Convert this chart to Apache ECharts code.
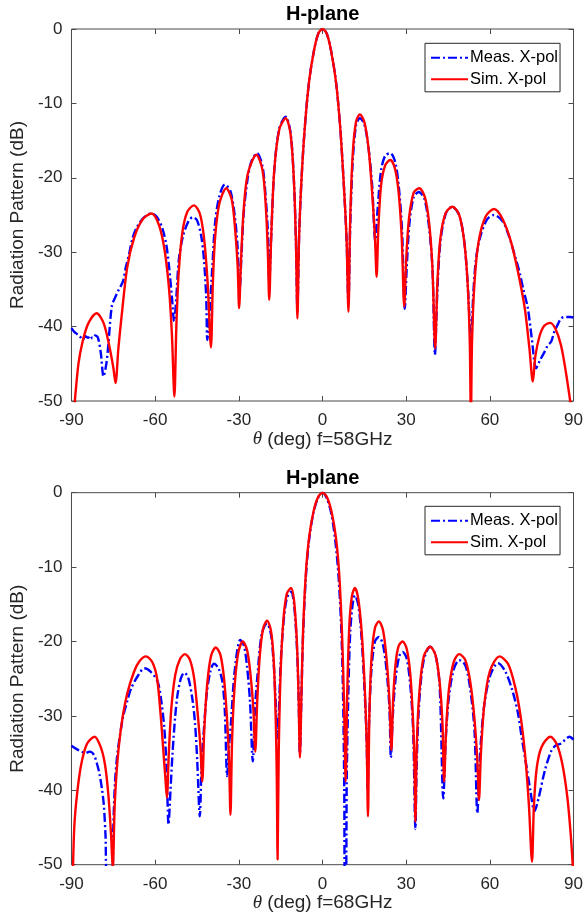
<!DOCTYPE html>
<html>
<head>
<meta charset="utf-8">
<script src="https://cdn.jsdelivr.net/npm/echarts@6/dist/echarts.min.js"></script>
<style>
html,body{margin:0;padding:0;background:#fff;}
#chart{width:586px;height:922px;}
</style>
</head>
<body>
<div id="chart"></div>
<script>
// ---------- data ----------
var xTicks = [-90, -60, -30, 0, 30, 60, 90];
var yTicks = [-50, -40, -30, -20, -10, 0];
var seriesNames = ['Meas. X-pol', 'Sim. X-pol'];
var panelTitles = ['H-plane', 'H-plane'];
var xLabels = ['f=58GHz', 'f=68GHz'];

// 58 GHz, simulated [theta, dB]
var sim58 = [
 [-89.5,-53],[-88.8,-50],[-87.5,-45],[-86,-42],[-84,-39.6],[-81,-38.2],[-78.5,-39.5],[-76.5,-42.5],[-75,-45.5],[-74.2,-47.6],
 [-73.2,-43],[-72,-38.5],[-70,-32],[-67.5,-28],[-64.5,-25.6],[-61.3,-24.8],[-58.5,-26.5],[-56.5,-30],[-55,-35],[-54,-41],[-53.1,-49.4],
 [-52.4,-40],[-51.6,-33],[-50.3,-27.5],[-48.5,-24.6],[-46.1,-23.7],[-44,-24.8],[-42.5,-28],[-41.2,-34],[-40.0,-42.8],
 [-39.3,-34],[-38.5,-28],[-37,-23.5],[-34.5,-21.4],[-32.5,-23],[-31.2,-27.5],[-30.4,-32],[-29.9,-37.5],
 [-29.2,-31],[-28.3,-24.5],[-26.8,-19.5],[-23.7,-16.9],[-21.5,-19],[-20.3,-24],[-19.6,-30],[-19.1,-36.4],
 [-18.4,-28],[-17.3,-19],[-15.5,-13.5],[-13.2,-12.0],[-11.5,-14],[-10.3,-20],[-9.5,-29],[-9.0,-38.9],
 [-8.4,-28],[-7.5,-20],[-6.3,-13],[-4.8,-7],[-3,-2.8],[-1.5,-0.6],[0,0],[1.5,-0.6],[3,-2.8],[4.8,-7],[6.3,-13],[7.5,-20],[8.6,-28],[9.3,-38],
 [9.9,-26],[10.8,-17],[12,-12.5],[13.4,-11.5],[15,-12.5],[16.5,-16],[17.8,-22],[18.8,-28],[19.4,-33.3],
 [20,-27],[21,-21],[22.5,-18.3],[24.3,-17.6],[26,-18.8],[27.3,-22],[28.4,-28],[29.3,-37.3],
 [30,-31],[31,-25.5],[32.7,-22],[34.7,-21.4],[36.7,-22.6],[38.2,-26],[39.4,-32],[40.4,-42.9],
 [41.2,-34],[42.3,-28],[44.2,-24.7],[46.6,-23.9],[49,-25],[50.8,-28.5],[52,-34],[52.8,-42],[53.2,-53],
 [53.6,-42],[54.5,-34],[56,-28.5],[58.5,-25.2],[61.5,-24.2],[64.5,-25.5],[67.5,-28.5],[70,-32.5],[72.5,-37.5],[74.2,-43],[75.4,-47.4],
 [76.3,-44],[77.8,-41.3],[79.5,-39.9],[81.6,-39.5],[83.5,-40.3],[85.5,-42.5],[87.2,-46],[88.8,-50],[89.5,-52]
];

// 58 GHz, measured [theta, dB]
var meas58 = [
 [-90,-40.2],[-89,-40.7],[-88,-41],[-87,-41.3],[-86,-41.8],[-85,-41.3],[-84,-41.5],[-83.2,-41.2],[-82.5,-41.6],[-81.5,-41.2],[-80.5,-41.5],
 [-79.5,-43.5],[-78.5,-46.7],[-77.5,-45],[-76.8,-42.5],[-75.5,-37.2],[-74,-35.8],[-73,-35],[-71.6,-34],[-70.5,-32],[-69.5,-30.5],
 [-68,-28],[-66.5,-26.6],[-64.5,-25.5],[-62.5,-24.9],[-61.3,-24.8],[-59.5,-25.2],[-57.5,-26.7],[-56,-29],[-55,-32],[-54,-36],[-53.2,-39.3],
 [-52.4,-36],[-51.5,-31],[-50,-27.8],[-48,-25.8],[-46.5,-25.3],[-45,-25.7],[-43.5,-27.8],[-42.5,-31],[-41.7,-36],[-41.3,-41.8],
 [-40.5,-38],[-39.5,-32],[-38.5,-26],[-37,-22.5],[-35,-20.9],[-33,-21.8],[-31.5,-25],[-30.5,-29],[-29.7,-34.9],
 [-29,-30],[-28.3,-25],[-27,-20.5],[-25.5,-17.8],[-23.5,-16.7],[-21.5,-18.5],[-20.3,-23],[-19.5,-28],[-19.1,-34],
 [-18.4,-28],[-17.3,-19],[-15.5,-13.4],[-13.2,-11.8],[-11.5,-13.8],[-10.3,-20],[-9.5,-29],[-9.0,-38],
 [-8.4,-28],[-7.5,-20],[-6.3,-13],[-4.8,-7],[-3,-2.8],[-1.5,-0.6],[0,0],[1.5,-0.6],[3,-2.8],[4.8,-7],[6.3,-13],[7.5,-20],[8.6,-28],[9.3,-37],
 [9.9,-27],[10.8,-18],[12,-13],[13.4,-12.0],[15,-12.8],[16.5,-16],[17.8,-21],[18.9,-28.4],
 [19.8,-24],[21,-19],[22.5,-17],[24.3,-16.7],[26,-17.8],[27.3,-21],[28.5,-27],[29.5,-37.6],
 [30.2,-32],[31.2,-26],[32.7,-22.6],[34.5,-21.9],[36.5,-22.8],[38,-26],[39.4,-32],[40.3,-43.8],
 [41.2,-35],[42.3,-28.5],[44.2,-24.8],[46.5,-23.9],[49,-25],[50.8,-28.5],[52,-34],[53.3,-42],
 [54,-36],[55,-31],[56.5,-28],[59,-25.6],[61.5,-25.0],[64.5,-25.8],[67,-28],[68.9,-30.4],[70.5,-32.5],[72,-35],[73.6,-37.5],[75,-41.5],[76.6,-45.6],
 [78,-44.5],[79.6,-43.4],[80.8,-42.5],[82,-42],[83.1,-40.7],[84.5,-39.6],[85.5,-38.9],[87,-38.7],[89,-38.7],[90,-38.8]
];

// 68 GHz, simulated [theta, dB]
var sim68 = [
 [-89.6,-53],[-89,-45],[-88,-40.5],[-86.5,-36.5],[-84.5,-33.8],[-81.7,-32.8],[-79.5,-34.2],[-78,-36.5],[-76.8,-40.5],[-75.8,-46],[-75.2,-50.5],
 [-74.5,-42],[-73.5,-36],[-72,-31],[-70,-27],[-67.5,-24],[-65.5,-22.6],[-63.3,-22.0],[-61,-22.8],[-59.3,-25],[-58,-30],[-57,-35],[-56.3,-38.5],[-55.8,-41.0],
 [-55.1,-35],[-54.2,-29],[-52.8,-24.5],[-51,-22.3],[-49.3,-21.7],[-47.5,-22.5],[-46,-25],[-44.8,-29.5],[-43.8,-34],[-43.1,-38.8],
 [-42.4,-32],[-41.4,-26],[-40,-22],[-38.3,-20.8],[-36.6,-21.8],[-35.3,-25],[-34.3,-30],[-33.5,-36],[-33.0,-43.3],
 [-32.4,-33],[-31.5,-26],[-30.2,-21.5],[-28.6,-20.0],[-27,-21.2],[-25.8,-24.5],[-24.8,-29],[-24.1,-34.8],
 [-23.4,-28],[-22.5,-22],[-21.3,-18.3],[-19.9,-17.2],[-18.5,-18.5],[-17.5,-22.5],[-16.8,-30],[-16.4,-38],[-16.1,-49.3],
 [-15.7,-35],[-15,-24],[-14,-17],[-12.8,-13.6],[-11.3,-12.8],[-10.2,-14.5],[-9.2,-20],[-8.6,-27],[-8.1,-35.6],
 [-7.6,-28],[-7,-19],[-6,-11],[-4.8,-6],[-3.2,-2.5],[-1.6,-0.6],[0,0],[1.6,-0.6],[3.2,-2.5],[4.8,-6],[6,-11],[7,-19],[7.7,-28],[8.3,-38.8],
 [8.8,-28],[9.6,-18],[10.5,-14],[11.6,-12.8],[12.8,-14.2],[14,-18.5],[15,-25],[15.8,-33],[16.3,-43.5],
 [16.8,-30],[17.6,-22],[18.8,-18.2],[20.2,-17.3],[21.7,-18.5],[23,-22.5],[24,-28],[24.7,-34.6],
 [25.3,-28],[26.2,-23],[27.3,-20.6],[28.7,-20.0],[30.2,-21],[31.5,-24.5],[32.5,-31],[33,-37],[33.3,-44.2],
 [33.8,-34],[34.7,-27],[36.3,-22],[38.6,-20.7],[40.5,-21.8],[42,-25.5],[43,-31],[43.6,-38.8],
 [44.3,-32],[45.3,-26.5],[47,-22.8],[49,-21.7],[51.2,-22.5],[53,-25.5],[54.5,-30.5],[55.5,-36],[56.1,-41.3],
 [56.8,-35],[58,-28.5],[60,-24],[63.5,-22.0],[66.5,-23],[69,-26],[71,-30],[72.7,-35.5],[74,-42],[75.1,-49.6],
 [75.8,-42],[76.8,-37],[78.5,-34.2],[81.7,-32.8],[84,-33.8],[86,-36.5],[87.8,-41],[89,-46],[89.7,-50],[90,-52]
];

// 68 GHz, measured [theta, dB]
var meas68 = [
 [-90,-34],[-88,-34.5],[-86.4,-34.8],[-85,-35],[-83.5,-34.8],[-82,-35.2],[-80.8,-36.5],[-79.9,-37.9],[-79,-40],[-78.4,-42],[-77.8,-46],[-77.2,-52],
 [-75.5,-52],[-75,-45],[-74.4,-39],[-73.5,-35],[-71.6,-30.3],[-70,-28],[-68.6,-26.3],[-66,-24.5],[-63.9,-23.6],[-61.5,-24.1],[-59.1,-25.4],[-57.8,-28],[-56.7,-31.7],[-55.9,-37],[-55.2,-44.6],
 [-54.5,-40],[-53.8,-35.2],[-52.8,-30],[-52,-27.2],[-50.8,-25],[-49.6,-24.2],[-48.2,-24.8],[-46.7,-27.6],[-45.7,-31],[-44.9,-36.1],[-44,-43.5],
 [-43.3,-36],[-42.5,-31.7],[-41.5,-27],[-40.2,-24],[-38.9,-23.0],[-37.3,-23.6],[-35.9,-25.4],[-35,-29.5],[-34.2,-38.1],
 [-33.5,-34],[-32.8,-30.8],[-31.5,-24],[-29.5,-19.8],[-28.2,-20.5],[-27.1,-23.2],[-26,-28],[-25,-36.1],
 [-24.2,-29],[-23.3,-24.5],[-21.8,-19],[-19.9,-17.6],[-18.5,-19],[-17.5,-23],[-16.8,-28],[-16.2,-33],
 [-15.7,-30],[-15,-23],[-14,-17.5],[-12.8,-14.2],[-11.3,-13.3],[-10.2,-15],[-9.2,-20.5],[-8.6,-27],[-8.1,-35],
 [-7.6,-28],[-7,-19.5],[-6,-11.5],[-4.8,-6.3],[-3.2,-2.6],[-1.6,-0.7],[0,0],[1.6,-0.8],[3.2,-2.9],[4.6,-6.5],[5.8,-11.5],[6.8,-19],[7.4,-28],[7.8,-40],[8.0,-52],
 [8.4,-52],[8.7,-38],[9.2,-28],[9.9,-19],[10.8,-15],[11.6,-13.8],[12.8,-15],[14,-19.5],[15,-26],[15.8,-33],[16.2,-40],
 [16.6,-32],[17.5,-24],[18.8,-20],[20.2,-19.4],[21.6,-20.3],[23,-24],[24,-29],[24.5,-35.6],
 [25.2,-30],[26.2,-25],[27.5,-22],[28.7,-21.4],[30.2,-22.3],[31.5,-26],[32.5,-32],[33.3,-45.2],
 [33.8,-36],[34.7,-28],[36.3,-22.5],[38.6,-20.7],[40.5,-21.8],[42,-26],[43.3,-41.1],
 [44.2,-33],[45.3,-27.5],[47,-23.8],[49,-22.5],[51.2,-23.2],[53,-26.5],[54.5,-32],[55.5,-43.1],
 [56.5,-35],[58,-28.5],[60.2,-24.5],[62.9,-22.9],[65.5,-24],[68,-26.5],[70,-29.5],[71.3,-32.6],[73,-36.5],[74.5,-40],[76,-42.8],
 [77.5,-41],[79.6,-37.5],[81.9,-34.8],[83.5,-34],[85.5,-33.7],[87,-33.2],[88.5,-32.8],[90,-33.2]
];

// ---------- chart ----------
var FONT = "'Liberation Sans', Arial, Helvetica, sans-serif";
var TXT = '#262626';
var FRAME = '#4a4a4a';
var grids = [
  {left: 70, top: 29, width: 505.5, height: 372},
  {left: 70, top: 492.7, width: 505.5, height: 372}
];
var legendTops = [43.3, 506.3];
var titleTops = [4, 468];

function xAx(g, top) {
  return {
    type: 'value', gridIndex: g, min: xTicks[0], max: xTicks[xTicks.length - 1], interval: 30,
    position: top ? 'top' : 'bottom',
    axisLine: {show: false, onZero: false},
    axisTick: {show: true, inside: true, length: 5, lineStyle: {color: FRAME, width: 1}},
    axisLabel: {show: !top, margin: 11, color: TXT, fontSize: 17, fontFamily: FONT},
    splitLine: {show: false},
    name: top ? '' : '{i|θ} (deg) ' + xLabels[g],
    nameLocation: 'middle', nameGap: 27,
    nameTextStyle: {color: TXT, fontSize: 19, fontFamily: FONT,
      rich: {i: {fontStyle: 'italic', fontFamily: "'Liberation Serif', 'DejaVu Serif', serif", fontSize: 19, color: TXT}}}
  };
}
function yAx(g, right) {
  return {
    type: 'value', gridIndex: g, min: yTicks[0], max: yTicks[yTicks.length - 1], interval: 10,
    position: right ? 'right' : 'left',
    axisLine: {show: false, onZero: false},
    axisTick: {show: true, inside: true, length: 5, lineStyle: {color: FRAME, width: 1}},
    axisLabel: {show: !right, margin: 9, color: TXT, fontSize: 17, fontFamily: FONT},
    splitLine: {show: false},
    name: right ? '' : 'Radiation Pattern (dB)',
    nameLocation: 'middle', nameGap: 41, nameRotate: 90,
    nameTextStyle: {color: TXT, fontSize: 19, fontFamily: FONT}
  };
}

var measStyle = {color: '#0000ff', width: 2.4, type: [9, 3, 2, 3]};
var simStyle = {color: '#ff0000', width: 2.4, type: 'solid'};

function mkSeries(name, data, g, style) {
  return {
    name: name, type: 'line', xAxisIndex: g * 2, yAxisIndex: g * 2,
    data: data, symbol: 'none', smooth: 0.3, clip: true,
    lineStyle: style, itemStyle: {color: style.color},
    emphasis: {disabled: true}, animation: false
  };
}

var option = {
  backgroundColor: '#ffffff',
  animation: false,
  title: panelTitles.map(function (t, i) {
    return {text: t, left: 286, top: titleTops[i], padding: 0,
      textStyle: {fontSize: 20, fontWeight: 'bold', color: '#000', fontFamily: FONT}};
  }),
  grid: grids.map(function (g) {
    return {left: g.left, top: g.top, width: g.width, height: g.height, show: true,
      borderColor: FRAME, borderWidth: 1, backgroundColor: '#fff', containLabel: false};
  }),
  legend: legendTops.map(function (t) {
    return {data: seriesNames, orient: 'vertical', left: 425, top: t,
      padding: [6, 2, 4, 5], itemGap: 4.5, itemWidth: 37, itemHeight: 14,
      backgroundColor: '#fff', borderColor: '#262626', borderWidth: 1, borderRadius: 0,
      textStyle: {fontSize: 16.5, color: '#000', fontFamily: FONT, padding: [0, 0, 0, -3]},
      itemStyle: {color: 'rgba(0,0,0,0)', borderWidth: 0, opacity: 0},
      selectedMode: false};
  }),
  xAxis: [xAx(0, false), xAx(0, true), xAx(1, false), xAx(1, true)],
  yAxis: [yAx(0, false), yAx(0, true), yAx(1, false), yAx(1, true)],
  series: [
    mkSeries(seriesNames[0], meas58, 0, measStyle),
    mkSeries(seriesNames[1], sim58, 0, simStyle),
    mkSeries(seriesNames[0], meas68, 1, measStyle),
    mkSeries(seriesNames[1], sim68, 1, simStyle)
  ]
};
var chart = echarts.init(document.getElementById('chart'), null, {renderer: 'canvas'});
chart.setOption(option);
</script>
</body>
</html>
